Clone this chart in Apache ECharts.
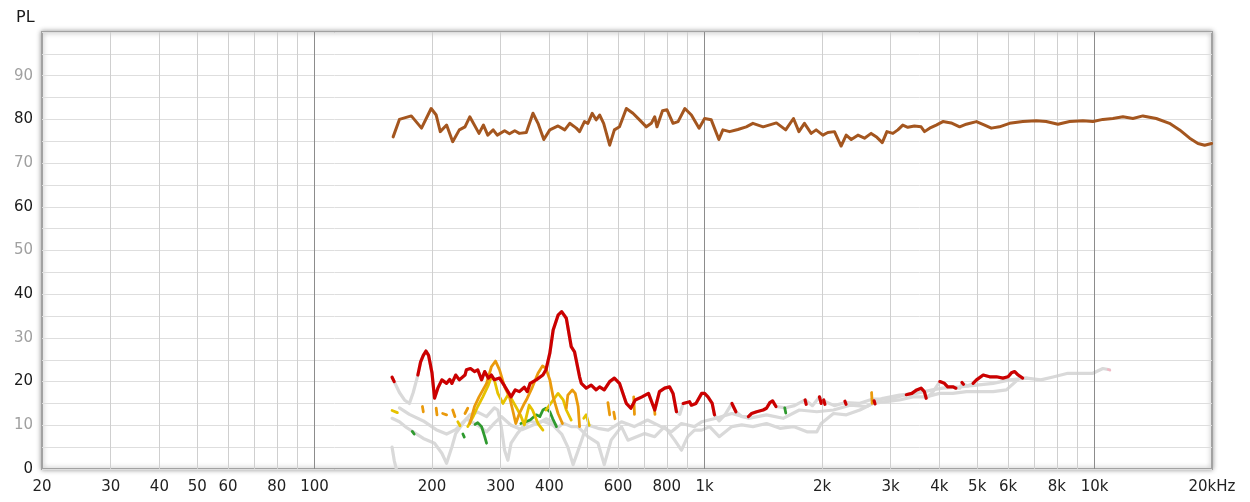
<!DOCTYPE html>
<html>
<head>
<meta charset="utf-8">
<script src="https://cdn.jsdelivr.net/npm/echarts@6/dist/echarts.min.js"></script>
<style>
  html, body { margin: 0; padding: 0; background: #fff; }
  #chart { width: 1250px; height: 502px; }
</style>
</head>
<body>
<div id="chart"></div>
<script>
// Frequency axis labels (Hz) and the values where they sit
const FREQ_TICKS = [20, 30, 40, 50, 60, 80, 100, 200, 300, 400, 600, 800, 1000, 2000, 3000, 4000, 5000, 6000, 8000, 10000, 20000];
const FREQ_LABELS = ['20', '30', '40', '50', '60', '80', '100', '200', '300', '400', '600', '800', '1k', '2k', '3k', '4k', '5k', '6k', '8k', '10k', '20kHz'];
// Vertical grid: every 1-2-...-9 step of each decade; decades drawn darker
const GRID_MINOR = [30, 40, 50, 60, 70, 80, 90, 200, 300, 400, 500, 600, 700, 800, 900, 2000, 3000, 4000, 5000, 6000, 7000, 8000, 9000];
const GRID_DECADE = [100, 1000, 10000];

// Fundamental level [Hz, PL]
const fundamental = [
  [159, 76.0], [165, 80.0], [177, 80.8], [188, 78.0], [199, 82.5], [205, 81.0], [210, 77.2], [218, 78.7],
  [226, 74.9], [235, 77.6], [243, 78.3], [250, 80.6], [264, 76.8], [271, 78.7], [278, 76.4], [287, 77.6],
  [294, 76.4], [307, 77.4], [316, 76.7], [326, 77.4], [335, 76.8], [349, 77.0], [363, 81.4], [374, 79.1],
  [387, 75.4], [401, 77.6], [421, 78.5], [438, 77.6], [451, 79.1], [469, 78.0], [478, 77.2], [492, 79.5],
  [502, 79.1], [515, 81.4], [527, 79.9], [538, 81.0], [551, 79.1], [571, 74.1], [587, 77.6], [605, 78.3],
  [630, 82.5], [655, 81.4], [681, 79.9], [709, 78.3], [730, 79.1], [745, 80.6], [755, 78.3], [780, 82.0],
  [801, 82.2], [830, 79.1], [855, 79.5], [890, 82.5], [925, 81.0], [968, 78.0], [1000, 80.2], [1040, 79.9],
  [1088, 75.4], [1114, 77.6], [1159, 77.2], [1217, 77.7], [1279, 78.3], [1330, 79.1], [1413, 78.3], [1528, 79.2],
  [1614, 77.6], [1690, 80.2], [1745, 77.2], [1803, 79.1], [1876, 76.8], [1932, 77.6], [2010, 76.4], [2070, 77.0],
  [2153, 77.2], [2239, 73.9], [2307, 76.4], [2377, 75.4], [2472, 76.4], [2570, 75.7], [2673, 76.8], [2766, 75.9],
  [2855, 74.7], [2934, 77.2], [3040, 76.8], [3130, 77.6], [3222, 78.7], [3319, 78.2], [3451, 78.5], [3590, 78.3],
  [3664, 77.2], [3776, 78.0], [3926, 78.7], [4083, 79.5], [4287, 79.2], [4508, 78.3], [4688, 78.9], [4977, 79.5],
  [5224, 78.7], [5435, 78.0], [5702, 78.3], [6051, 79.1], [6546, 79.5], [7082, 79.7], [7516, 79.5], [8054, 78.9],
  [8630, 79.5], [9333, 79.7], [9909, 79.5], [10500, 80.0], [11140, 80.2], [11820, 80.6], [12540, 80.2], [13300, 80.8],
  [14390, 80.2], [15560, 79.1], [16520, 77.6], [17530, 75.7], [18410, 74.5], [19150, 74.1], [19950, 74.5]
];

// Highest distortion curve, full path (grey where not flagged)
const distTop = [
  [158, 21.0], [165, 17.5], [170, 15.8], [175, 15.0], [179, 17.5], [184, 21.5], [187, 24.5], [190, 26.0],
  [193, 27.0], [196, 26.0], [200, 22.0], [203, 16.2], [207, 18.5], [212, 20.4], [218, 19.6], [222, 20.5],
  [225, 19.6], [230, 21.5], [235, 20.4], [243, 21.5], [245, 22.7], [251, 23.0], [257, 22.3], [262, 22.7],
  [268, 20.4], [273, 22.3], [279, 20.8], [284, 21.5], [289, 20.4], [298, 20.8], [307, 19.0], [319, 16.5],
  [327, 18.1], [335, 17.7], [345, 18.7], [351, 17.7], [357, 19.6], [370, 20.4], [385, 21.5], [392, 22.7],
  [401, 26.5], [409, 31.8], [421, 35.2], [430, 36.0], [442, 34.5], [455, 28.0], [464, 26.8], [478, 21.1],
  [483, 19.6], [497, 18.5], [512, 19.2], [527, 18.1], [538, 18.8], [553, 18.1], [571, 20.0], [587, 20.8],
  [605, 19.6], [630, 15.0], [647, 13.9], [664, 15.8], [691, 16.5], [718, 17.3], [745, 13.5], [766, 17.7],
  [790, 18.5], [813, 18.8], [830, 17.3], [847, 13.1], [864, 12.5], [881, 15.0], [915, 15.4], [925, 14.6],
  [950, 15.0], [983, 17.3], [1000, 17.3], [1020, 16.5], [1046, 15.0], [1060, 12.4], [1090, 11.0], [1130, 12.5],
  [1175, 15.0], [1203, 13.1], [1245, 12.0], [1295, 12.0], [1320, 12.7], [1360, 13.1], [1413, 13.5], [1441, 13.9],
  [1470, 15.2], [1494, 15.6], [1524, 14.3], [1614, 14.0], [1700, 14.5], [1810, 15.8], [1890, 14.5], [1970, 16.5],
  [2030, 15.5], [2150, 14.5], [2300, 15.2], [2490, 15.0], [2700, 16.0], [2970, 16.0], [3290, 17.0], [3400, 17.3],
  [3500, 18.1], [3590, 18.5], [3660, 17.7], [3700, 16.2], [3840, 17.5], [4010, 20.0], [4120, 19.6], [4200, 18.8],
  [4330, 18.8], [4410, 18.5], [4510, 18.5], [4580, 19.6], [4720, 19.0], [4880, 19.6], [4980, 20.4], [5180, 21.5],
  [5380, 21.1], [5600, 21.1], [5820, 20.8], [6000, 21.1], [6120, 22.0], [6240, 22.3], [6370, 21.5], [6540, 20.8],
  [6700, 20.8]
];

// Middle distortion curve (grey)
const distMid = [
  [165, 14.0], [175, 12.5], [190, 11.0], [205, 9.0], [218, 8.0], [230, 9.0], [245, 11.5], [262, 10.0],
  [276, 8.5], [289, 10.5], [301, 12.0], [319, 10.0], [340, 9.0], [362, 10.0], [385, 11.0], [409, 10.0],
  [430, 8.0], [446, 5.0], [460, 1.0], [473, 4.0], [490, 8.0], [502, 10.1], [533, 9.3], [566, 8.9],
  [612, 10.8], [660, 9.7], [714, 11.2], [773, 9.7], [822, 8.5], [872, 10.4], [942, 9.7], [983, 10.8],
  [1070, 11.6], [1175, 12.7], [1295, 11.6], [1441, 12.4], [1590, 11.6], [1750, 13.5], [1940, 13.1], [2140, 13.5],
  [2360, 14.6], [2600, 14.3], [2870, 16.2], [3160, 16.9], [3480, 17.3], [3840, 18.1], [4080, 18.5], [4510, 18.8],
  [4980, 19.2], [5490, 19.6], [6060, 20.4], [6700, 20.8], [7280, 20.4], [7870, 21.1], [8540, 21.9], [9230, 21.9],
  [9900, 21.9], [10500, 23.0], [10920, 22.7]
];

// Lowest distortion curve (grey)
const distLow = [
  [158, 11.6], [165, 10.8], [172, 9.5], [179, 8.5], [190, 7.0], [203, 5.9], [212, 3.6], [218, 1.3],
  [225, 5.1], [230, 8.1], [240, 10.4], [250, 12.4], [262, 13.0], [276, 12.0], [289, 14.0], [295, 13.5],
  [301, 9.7], [307, 4.3], [313, 2.0], [319, 5.9], [331, 8.1], [345, 10.0], [357, 11.0], [374, 10.4],
  [392, 11.5], [409, 10.8], [421, 9.5], [434, 10.5], [455, 9.7], [473, 9.7], [502, 7.4], [533, 5.9],
  [553, 1.0], [576, 6.6], [612, 9.7], [636, 6.6], [702, 8.1], [745, 7.4], [790, 9.7], [838, 6.6],
  [872, 4.3], [905, 7.4], [942, 8.9], [983, 8.9], [1030, 9.7], [1090, 7.4], [1175, 9.7], [1245, 10.1],
  [1330, 9.7], [1441, 10.4], [1560, 9.3], [1690, 9.7], [1830, 8.5], [1940, 8.5], [1990, 10.4], [2140, 12.7],
  [2310, 12.4], [2500, 13.5], [2700, 15.0], [2920, 15.4], [3160, 15.8], [3420, 16.5], [3700, 16.5], [4000, 17.3],
  [4330, 17.3], [4690, 17.7], [5070, 17.7], [5490, 17.7], [5940, 18.1], [6420, 20.8]
];

// Short grey stub at the low end
const distStub = [[158, 5.0], [160, 2.0], [162, 0.0]];

// Flagged segments; [Hz, null] breaks the line
const flagRed = [
  [158, 21.0], [160, 20.0], [160, null],
  [184, 21.5], [187, 24.5], [190, 26.0], [193, 27.0], [196, 26.0], [200, 22.0], [203, 16.2], [207, 18.5],
  [212, 20.4], [218, 19.6], [222, 20.5], [225, 19.6], [230, 21.5], [235, 20.4], [243, 21.5], [245, 22.7],
  [251, 23.0], [257, 22.3], [262, 22.7], [268, 20.4], [273, 22.3], [279, 20.8], [284, 21.5], [289, 20.4],
  [298, 20.8], [307, 19.0], [319, 16.5], [327, 18.1], [335, 17.7], [345, 18.7], [351, 17.7], [357, 19.6],
  [370, 20.4], [385, 21.5], [392, 22.7], [401, 26.5], [409, 31.8], [421, 35.2], [430, 36.0], [442, 34.5],
  [455, 28.0], [464, 26.8], [478, 21.1], [483, 19.6], [497, 18.5], [512, 19.2], [527, 18.1], [538, 18.8],
  [553, 18.1], [571, 20.0], [587, 20.8], [605, 19.6], [630, 15.0], [647, 13.9], [664, 15.8], [691, 16.5],
  [718, 17.3], [745, 13.5], [766, 17.7], [790, 18.5], [813, 18.8], [830, 17.3], [847, 13.1], [847, null],
  [881, 15.0], [915, 15.4], [925, 14.6], [950, 15.0], [983, 17.3], [1000, 17.3], [1020, 16.5], [1046, 15.0],
  [1060, 12.4], [1060, null],
  [1175, 15.0], [1203, 13.1], [1203, null],
  [1295, 12.0], [1320, 12.7], [1360, 13.1], [1413, 13.5], [1441, 13.9], [1470, 15.2], [1494, 15.6], [1524, 14.3], [1524, null],
  [1810, 15.8], [1822, 14.8], [1822, null],
  [1970, 16.5], [1990, 15.0], [1990, null],
  [2020, 15.8], [2035, 14.8], [2035, null],
  [2290, 15.5], [2305, 14.8], [2305, null],
  [2720, 15.6], [2735, 14.9], [2735, null],
  [3290, 17.0], [3400, 17.3], [3500, 18.1], [3590, 18.5], [3660, 17.7], [3700, 16.2], [3700, null],
  [4010, 20.0], [4120, 19.6], [4200, 18.8], [4330, 18.8], [4410, 18.5], [4410, null],
  [4570, 19.8], [4610, 19.4], [4610, null],
  [4880, 19.6], [4980, 20.4], [5180, 21.5], [5380, 21.1], [5600, 21.1], [5820, 20.8], [6000, 21.1], [6120, 22.0],
  [6240, 22.3], [6370, 21.5], [6540, 20.8]
];

const flagOrange = [
  [189, 14.3], [190, 13.1], [190, null],
  [205, 13.9], [206, 12.4], [206, null],
  [213, 12.7], [218, 12.4], [218, null],
  [226, 13.5], [229, 12.0], [229, null],
  [243, 12.7], [247, 13.9], [247, null],
  [250, 10.4], [257, 14.3], [264, 16.5], [276, 19.6], [284, 23.4], [291, 24.7], [298, 22.7], [307, 18.8],
  [316, 16.5], [322, 13.5], [328, 10.4], [335, 12.7], [345, 15.0], [351, 16.2], [362, 18.8], [374, 21.9],
  [384, 23.6], [392, 23.0], [401, 20.4], [409, 16.5], [421, 12.7], [432, 10.4], [432, null],
  [442, 14.0], [446, 16.9], [458, 18.1], [466, 17.3], [474, 14.3], [478, 9.7], [478, null],
  [565, 15.2], [571, 12.4], [571, null],
  [585, 13.0], [589, 11.5], [589, null],
  [658, 16.5], [661, 12.5], [661, null],
  [742, 14.5], [746, 12.5], [746, null],
  [2680, 17.5], [2690, 15.0]
];

const flagYellow = [
  [158, 13.4], [163, 12.9], [163, null],
  [233, 10.8], [236, 9.9], [236, null],
  [247, 9.7], [255, 12.0], [262, 14.3], [270, 16.5], [279, 19.2], [284, 21.1], [289, 20.4], [295, 17.3],
  [304, 15.0], [313, 16.9], [320, 16.0], [328, 14.3], [337, 12.4], [345, 10.1], [355, 14.6], [362, 13.5],
  [374, 10.4], [385, 8.9], [385, null],
  [392, 13.5], [409, 15.8], [421, 17.3], [434, 15.8], [442, 13.5], [455, 11.2], [455, null],
  [490, 11.6], [497, 12.4], [506, 10.0]
];

const flagGreen = [
  [178, 8.6], [180, 8.0], [180, null],
  [240, 8.0], [242, 7.3], [242, null],
  [258, 10.2], [262, 10.6], [268, 9.7], [273, 7.4], [276, 5.9], [276, null],
  [338, 10.4], [348, 10.8], [357, 11.2], [370, 12.4], [378, 12.0], [385, 13.5], [392, 13.9], [401, 13.1],
  [408, 11.5], [417, 9.7], [417, null],
  [1605, 14.0], [1615, 12.8]
];

const flagPink = [[10820, 22.8], [10960, 22.6]];

const FONT = 'DejaVu Sans';

function lineSeries(data, color, width, z) {
  return {
    type: 'line', data: data, symbol: 'none', showSymbol: false, clip: true,
    connectNulls: false, z: z, silent: true,
    lineStyle: { color: color, width: width, cap: 'round', join: 'round' }
  };
}

const chart = echarts.init(document.getElementById('chart'), null, { renderer: 'canvas' });

chart.setOption({
  animation: false,
  backgroundColor: '#ffffff',
  title: {
    text: 'PL', left: 11, top: 5,
    textStyle: { fontFamily: FONT, fontSize: 16, fontWeight: 'normal', color: '#1a1a1a' }
  },
  grid: {
    left: 42, right: 38, top: 32, bottom: 33,
    show: true, backgroundColor: '#ffffff',
    borderColor: '#a2a2a2', borderWidth: 2,
    shadowColor: 'rgba(0,0,0,0.35)', shadowBlur: 5
  },
  xAxis: {
    type: 'log', logBase: 10, min: 20, max: 20000,
    axisLine: { show: false }, axisTick: { show: false }, splitLine: { show: false },
    axisLabel: {
      customValues: FREQ_TICKS,
      margin: 11, fontFamily: FONT, fontSize: 15, color: '#222',
      showMinLabel: true, showMaxLabel: true, hideOverlap: false,
      formatter: function (v) {
        let best = 0, bd = Infinity;
        FREQ_TICKS.forEach(function (t, i) { const d = Math.abs(Math.log(t) - Math.log(v)); if (d < bd) { bd = d; best = i; } });
        return FREQ_LABELS[best];
      }
    }
  },
  yAxis: {
    type: 'value', min: 0, max: 100, interval: 10,
    axisLine: { show: false }, axisTick: { show: false },
    splitLine: { show: true, lineStyle: { color: '#dedede', width: 1 } },
    minorTick: { show: false, splitNumber: 2 },
    minorSplitLine: { show: true, lineStyle: { color: '#dedede', width: 1 } },
    axisLabel: {
      margin: 9, fontFamily: FONT, fontSize: 15,
      formatter: function (v) {
        if (v >= 100) return '';
        return (v / 10) % 2 === 0 ? '{d|' + v + '}' : '{g|' + v + '}';
      },
      rich: {
        d: { color: '#1a1a1a', fontFamily: FONT, fontSize: 15 },
        g: { color: '#a0a0a0', fontFamily: FONT, fontSize: 15 }
      }
    }
  },
  series: [
    {
      type: 'line', data: [[20, null]], symbol: 'none', z: 1, silent: true,
      markLine: {
        silent: true, symbol: 'none', label: { show: false }, animation: false,
        data: GRID_MINOR.map(function (f) { return { xAxis: f, lineStyle: { color: '#cfcfcf', width: 1, type: 'solid' } }; })
          .concat(GRID_DECADE.map(function (f) { return { xAxis: f, lineStyle: { color: '#8c8c8c', width: 1, type: 'solid' } }; }))
      }
    },
    lineSeries(distStub, '#d9d9d9', 3.2, 2),
    lineSeries(distLow, '#d9d9d9', 3.2, 2),
    lineSeries(distMid, '#d9d9d9', 3.2, 2),
    lineSeries(distTop, '#d9d9d9', 3.2, 2),
    lineSeries(flagGreen, '#2f9a2f', 2.8, 3),
    lineSeries(flagYellow, '#e6c200', 2.8, 4),
    lineSeries(flagOrange, '#ea9a0c', 2.8, 5),
    lineSeries(flagRed, '#cc0000', 3.2, 6),
    lineSeries(flagPink, '#f2b8c4', 2.2, 6),
    lineSeries(fundamental, '#a4561f', 3.0, 7)
  ]
});
</script>
</body>
</html>
